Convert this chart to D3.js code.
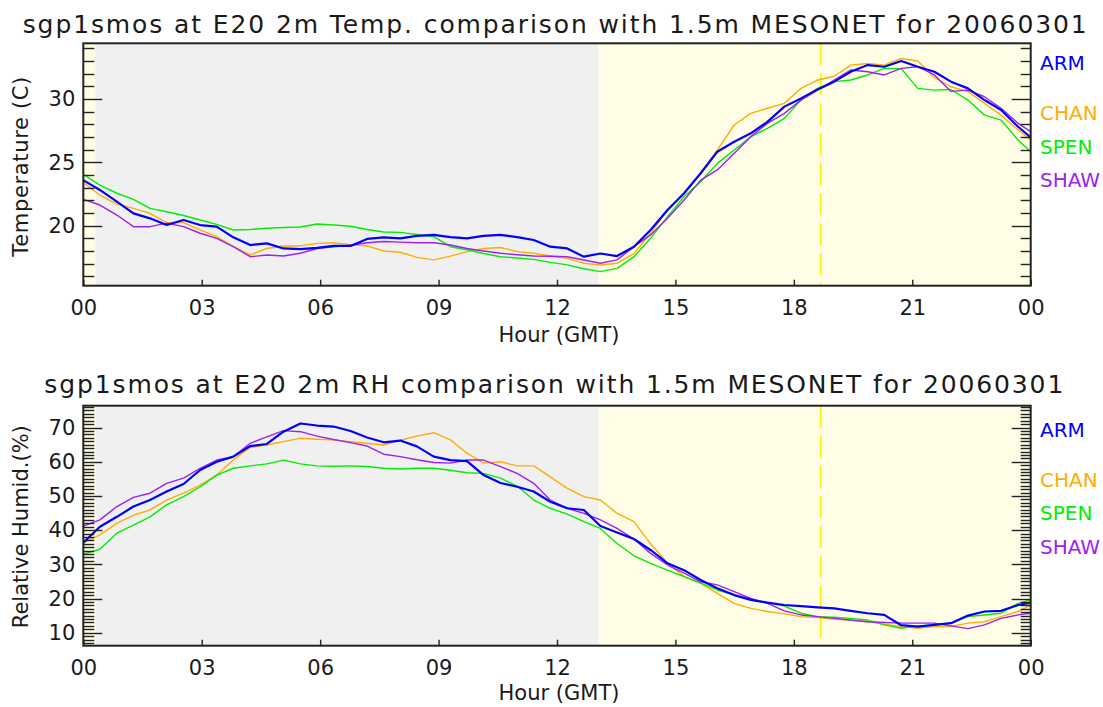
<!DOCTYPE html>
<html>
<head>
<meta charset="utf-8">
<script src="https://cdn.jsdelivr.net/npm/d3@7"></script>
<style>
  html, body { margin: 0; padding: 0; background: #ffffff; }
  svg { display: block; }
  text { font-family: "DejaVu Sans", sans-serif; fill: #1a1a1a; }
</style>
</head>
<body>
<svg id="chart" width="1103" height="707"></svg>
<script>
// ---------------- DATA ----------------
const hours = [0,0.42,0.85,1.27,1.69,2.11,2.54,2.96,3.38,3.80,
  4.23,4.65,5.07,5.50,5.92,6.34,6.77,7.19,7.61,8.03,
  8.45,8.88,9.30,9.72,10.14,10.57,10.99,11.41,11.83,12.26,
  12.68,13.10,13.52,13.95,14.37,14.80,15.22,15.64,16.06,16.49,
  16.91,17.33,17.76,18.18,18.60,19.02,19.44,19.87,20.29,20.72,
  21.14,21.56,21.98,22.41,22.83,23.25,23.68,24.0];

const stations = ["ARM", "CHAN", "SPEN", "SHAW"];

const tempARM = [23.6,22.82,21.9,20.97,20.58,20.05,20.45,20.05,19.92,19.08,
  18.47,18.6,18.2,18.15,18.25,18.4,18.4,18.95,19.08,19.0,
  19.2,19.27,19.1,19.0,19.2,19.27,19.1,18.87,18.34,18.2,
  17.55,17.8,17.6,18.34,19.66,21.24,22.56,24.14,25.84,26.63,
  27.29,28.2,29.4,30.05,30.76,31.37,32.15,32.68,32.55,33.0,
  32.55,32.15,31.37,30.84,29.92,29.13,27.81,26.97];
const tempCHAN = [23.4,22.42,21.7,21.37,20.97,20.24,20.24,19.66,19.13,18.34,
  17.69,18.2,18.39,18.4,18.6,18.65,18.5,18.4,18.0,17.9,
  17.5,17.3,17.6,17.95,18.2,18.28,17.95,17.82,17.6,17.42,
  17.03,16.9,17.03,17.8,19.4,21.24,22.56,24.14,25.97,27.95,
  28.87,29.27,29.66,30.84,31.5,31.8,32.68,32.8,32.68,33.2,
  33.0,31.7,30.97,30.58,29.66,28.73,27.55,26.76];
const tempSPEN = [24.06,23.2,22.56,22.08,21.37,21.1,20.8,20.45,20.1,19.66,
  19.7,19.8,19.85,19.9,20.13,20.05,19.95,19.7,19.5,19.47,
  19.3,19.13,18.34,18.1,17.8,17.55,17.45,17.34,17.1,16.9,
  16.6,16.37,16.63,17.55,19.0,20.71,22.3,23.47,24.92,25.97,
  27.03,27.68,28.47,29.92,30.84,31.37,31.5,31.9,32.42,32.4,
  30.84,30.7,30.75,29.92,28.73,28.34,26.76,25.84];
const tempSHAW = [22.08,21.63,20.84,19.92,19.92,20.2,19.92,19.4,19.0,18.34,
  17.55,17.68,17.6,17.82,18.2,18.34,18.45,18.65,18.75,18.7,
  18.65,18.65,18.47,18.2,18.0,17.82,17.7,17.6,17.58,17.55,
  17.29,17.03,17.3,18.34,19.27,20.58,22.03,23.6,24.4,25.71,
  27.03,28.08,28.87,29.92,30.7,31.5,32.29,32.15,31.9,32.42,
  32.55,31.9,30.6,30.7,30.18,29.27,28.08,27.42];

const rhARM = [36.3,41.0,43.9,46.9,48.8,51.3,53.5,57.6,60.0,61.5,
  64.6,65.2,68.8,71.2,70.6,70.3,69.0,67.1,65.7,66.2,
  64.5,61.5,60.5,60.2,56.1,53.8,52.7,51.3,48.3,46.4,
  45.9,41.2,39.3,37.4,34.2,30.3,28.3,25.4,23.0,21.0,
  19.6,18.8,18.1,17.8,17.4,17.1,16.4,15.7,15.2,12.2,
  11.8,12.3,12.8,15.0,16.2,16.4,18.1,18.8];
const rhCHAN = [36.3,38.6,42.0,44.4,45.9,48.8,50.8,53.2,56.1,60.5,
  64.2,64.9,65.9,66.9,66.6,66.4,65.9,65.4,64.9,66.3,
  67.5,68.5,66.4,62.5,59.6,60.0,58.8,58.8,55.6,52.2,
  49.8,48.8,44.9,42.5,36.0,30.3,26.4,24.5,21.5,18.6,
  17.1,16.2,15.5,14.7,14.4,14.0,13.6,13.2,12.5,11.8,
  11.3,11.8,11.8,12.8,13.2,14.7,16.2,18.1];
const rhSPEN = [33.0,34.4,39.1,41.5,43.9,47.4,49.8,52.7,56.1,58.1,
  58.8,59.4,60.5,59.4,58.8,58.7,58.8,58.6,58.1,57.9,
  58.1,58.1,57.5,56.8,56.6,55.2,52.9,48.8,46.4,44.7,
  42.5,40.5,36.1,32.5,30.3,28.3,26.4,24.5,22.5,21.0,
  19.6,18.8,17.8,15.7,14.7,14.5,14.2,13.7,12.3,11.3,
  12.0,12.3,12.8,14.7,15.2,15.7,18.6,19.6];
const rhSHAW = [41.2,43.0,46.9,49.6,50.8,53.7,55.2,58.1,60.5,61.5,
  65.4,67.3,69.1,68.8,67.5,66.5,65.6,64.6,62.2,61.5,
  60.6,59.8,59.6,60.5,60.5,58.6,56.6,53.7,48.8,46.4,
  44.9,43.0,40.5,37.4,33.2,29.8,27.4,24.9,24.0,22.0,
  20.0,18.6,16.4,15.2,14.7,14.2,13.7,13.2,13.0,12.8,
  12.8,12.8,12.0,11.2,12.3,14.2,15.2,15.7];

const hourTicks = [0,3,6,9,12,15,18,21,24];
const hourTickLabels = ["00","03","06","09","12","15","18","21","00"];
const tempTicks = [20,25,30];
const tempMinorTicks = [16,17,18,19,21,22,23,24,26,27,28,29,31,32,33,34];
const rhTicks = [10,20,30,40,50,60,70];
const rhMinorTicks = [7,8,9,11,12,13,14,15,16,17,18,19,21,22,23,24,25,26,27,28,29,
  31,32,33,34,35,36,37,38,39,41,42,43,44,45,46,47,48,49,51,52,53,54,55,56,57,58,59,
  61,62,63,64,65,66,67,68,69,71,72,73,74,75,76];
const tempDomain = [15.26, 34.4];
const rhDomain = [6.2, 76.4];

// sun times (GMT hours)
const sunset = 0.31, sunrise = 13.05, solarNoon = 18.68;

const titles = [
  "sgp1smos at E20 2m Temp. comparison with 1.5m MESONET for 20060301",
  "sgp1smos at E20 2m RH comparison with 1.5m MESONET for 20060301"
];
const yTitles = ["Temperature (C)", "Relative Humid.(%)"];
const xTitle = "Hour (GMT)";

// ---------------- STYLE / LAYOUT ----------------
const colors = { ARM: "#0000ff", CHAN: "#ffad00", SPEN: "#00ee00", SHAW: "#a020f0" };
const widths = { ARM: 2.2, CHAN: 1.4, SPEN: 1.4, SHAW: 1.4 };
const drawOrder = ["CHAN", "SPEN", "SHAW", "ARM"];

const plotLeft = 83.3, plotRight = 1030.7;
const panels = [
  { top: 43.3, bottom: 285.7, domain: tempDomain, ticks: tempTicks, minor: tempMinorTicks,
    series: { ARM: tempARM, CHAN: tempCHAN, SPEN: tempSPEN, SHAW: tempSHAW },
    title: titles[0], titleX: 22.7, titleLen: 1064, titleY: 33.3,
    yTitle: yTitles[0], yTitleLen: 180, yTitleCY: 166.7,
    xTitleY: 341.5, legendY: [63.3, 113.3, 146.7, 180] },
  { top: 405.7, bottom: 645.7, domain: rhDomain, ticks: rhTicks, minor: rhMinorTicks,
    series: { ARM: rhARM, CHAN: rhCHAN, SPEN: rhSPEN, SHAW: rhSHAW },
    title: titles[1], titleX: 44.3, titleLen: 1019, titleY: 393.3,
    yTitle: yTitles[1], yTitleLen: 203, yTitleCY: 526.7,
    xTitleY: 700, legendY: [430, 480, 513.3, 546.7] }
];

const svg = d3.select("#chart");
const x = d3.scaleLinear().domain([0, 24]).range([plotLeft, plotRight]);

panels.forEach((p, pi) => {
  const y = d3.scaleLinear().domain(p.domain).range([p.bottom, p.top]);
  const g = svg.append("g");

  // backgrounds
  g.append("rect")
    .attr("x", x(0)).attr("y", p.top)
    .attr("width", x(24) - x(0)).attr("height", p.bottom - p.top)
    .attr("fill", "#fffde6");
  g.append("rect")
    .attr("x", x(sunset)).attr("y", p.top)
    .attr("width", x(sunrise) - x(sunset)).attr("height", p.bottom - p.top)
    .attr("fill", "#f0f0f0");

  // solar noon dashed line
  g.append("line")
    .attr("x1", x(solarNoon)).attr("x2", x(solarNoon))
    .attr("y1", p.top).attr("y2", p.bottom)
    .attr("stroke", "#ffee00").attr("stroke-width", 1.6)
    .attr("stroke-dasharray", "22,8");

  // clip
  const clipId = "clip" + pi;
  svg.append("clipPath").attr("id", clipId).append("rect")
    .attr("x", x(0)).attr("y", p.top)
    .attr("width", x(24) - x(0)).attr("height", p.bottom - p.top);

  // lines
  const line = d3.line().x((d, i) => x(hours[i])).y(d => y(d));
  drawOrder.forEach(s => {
    g.append("path")
      .datum(p.series[s])
      .attr("clip-path", `url(#${clipId})`)
      .attr("fill", "none")
      .attr("stroke", colors[s])
      .attr("stroke-width", widths[s])
      .attr("stroke-linejoin", "round")
      .attr("d", line);
  });

  // y ticks (left & right, inward), drawn from the scale
  const tickGroup = g.append("g").attr("stroke", "#222").attr("stroke-width", 1.4);
  const addTicks = (vals, xs, len) => {
    tickGroup.append("g").selectAll("line").data(vals).join("line")
      .attr("x1", xs).attr("x2", xs + len)
      .attr("y1", d => Math.round(y(d)) + 0.5).attr("y2", d => Math.round(y(d)) + 0.5);
  };
  addTicks(p.minor, plotLeft, 11);
  addTicks(p.ticks, plotLeft, 19);
  addTicks(p.minor, plotRight, -10);
  addTicks(p.ticks, plotRight, -19);

  // y tick labels via axis
  const axStyle = sel => {
    sel.select(".domain").remove();
    sel.selectAll(".tick line").attr("stroke", "#222").attr("stroke-width", 1.4);
    sel.selectAll(".tick text").attr("font-size", 21).attr("fill", "#1a1a1a")
      .attr("font-family", "DejaVu Sans, sans-serif");
  };
  g.append("g").attr("transform", `translate(${plotLeft},0)`)
    .call(d3.axisLeft(y).tickValues(p.ticks).tickSize(0).tickPadding(8).tickFormat(d3.format("d")))
    .call(axStyle);

  // x axis
  g.append("g").attr("transform", `translate(0,${p.bottom})`)
    .call(d3.axisBottom(x).tickValues(hourTicks).tickSize(-6).tickPadding(14)
      .tickFormat((d, i) => hourTickLabels[i]))
    .call(axStyle);

  // frame
  g.append("rect")
    .attr("x", plotLeft).attr("y", p.top)
    .attr("width", plotRight - plotLeft).attr("height", p.bottom - p.top)
    .attr("fill", "none").attr("stroke", "#222").attr("stroke-width", 2);

  // titles
  g.append("text")
    .attr("x", p.titleX).attr("y", p.titleY)
    .attr("font-size", 25)
    .attr("textLength", p.titleLen).attr("lengthAdjust", "spacing")
    .text(p.title);

  g.append("text")
    .attr("x", (plotLeft + plotRight) / 2 + 2).attr("y", p.xTitleY)
    .attr("text-anchor", "middle").attr("font-size", 21)
    .text(xTitle);

  g.append("text")
    .attr("transform", `translate(28,${p.yTitleCY}) rotate(-90)`)
    .attr("text-anchor", "middle").attr("font-size", 21)
    .attr("textLength", p.yTitleLen).attr("lengthAdjust", "spacing")
    .text(p.yTitle);

  // legend
  stations.forEach((s, i) => {
    g.append("text")
      .attr("x", 1040).attr("y", p.legendY[i])
      .attr("dominant-baseline", "central")
      .attr("font-size", 20)
      .style("fill", colors[s])
      .text(s);
  });
});
</script>
</body>
</html>
